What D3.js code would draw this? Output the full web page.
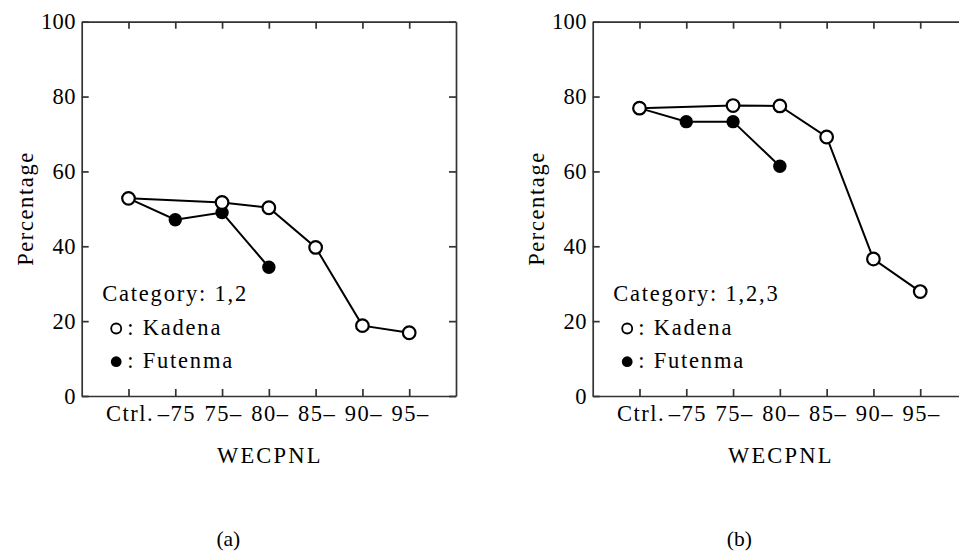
<!doctype html>
<html>
<head>
<meta charset="utf-8">
<script src="https://d3js.org/d3.v7.min.js"></script>
<style>
  body { margin: 0; background: #fff; }
  svg text { font-family: "Liberation Serif", "Times New Roman", serif; fill: #000; }
</style>
</head>
<body>
<svg width="959" height="552"></svg>
<script>
// categories on the x axis
var categories = ["Ctrl.", "\u201375", "75\u2013", "80\u2013", "85\u2013", "90\u2013", "95\u2013"];
var yTicks = [0, 20, 40, 60, 80, 100];

// panel (a): category 1,2
var kadenaA  = [52.8, null, 51.7, 50.3, 39.7, 18.8, 16.9];
var futenmaA = [52.8, 47.1, 49.0, 34.4, null, null, null];
// panel (b): category 1,2,3
var kadenaB  = [76.9, null, 77.6, 77.5, 69.2, 36.6, 27.9];
var futenmaB = [76.9, 73.3, 73.3, 61.4, null, null, null];

var panels = [
  { left: 81.7,  label: "(a)", legend: "Category: 1,2",   kadena: kadenaA, futenma: futenmaA },
  { left: 592.7, label: "(b)", legend: "Category: 1,2,3", kadena: kadenaB, futenma: futenmaB }
];

var svg = d3.select("svg"),
    plotW = 374.3,
    plotTop = 21.7,
    plotBottom = 396,
    fs = "22.5px";

panels.forEach(function(p) {
  var x = d3.scaleLinear().domain([-1, categories.length]).range([p.left, p.left + plotW]);
  var y = d3.scaleLinear().domain([0, 100]).range([plotBottom, plotTop]);
  var idx = d3.range(categories.length);

  var g = svg.append("g");

  // frame with inward ticks
  var xb = g.append("g").attr("transform", "translate(0," + plotBottom + ")")
    .call(d3.axisBottom(x).tickValues(idx).tickSizeInner(-7).tickSizeOuter(0).tickPadding(9)
      .tickFormat(function(i) { return categories[i]; }));
  g.append("g").attr("transform", "translate(0," + plotTop + ")")
    .call(d3.axisTop(x).tickValues(idx).tickSizeInner(-7).tickSizeOuter(0).tickFormat(""));
  var yl = g.append("g").attr("transform", "translate(" + p.left + ",0)")
    .call(d3.axisLeft(y).tickValues(yTicks).tickSizeInner(-7).tickSizeOuter(0).tickPadding(6));
  g.append("g").attr("transform", "translate(" + (p.left + plotW) + ",0)")
    .call(d3.axisRight(y).tickValues(yTicks).tickSizeInner(-7).tickSizeOuter(0).tickFormat(""));

  g.selectAll(".domain").attr("stroke", "#333").attr("stroke-width", 1.7);
  g.selectAll(".tick line").attr("stroke", "#333").attr("stroke-width", 1.7);
  g.selectAll(".tick text")
    .attr("font-size", fs)
    .attr("font-family", "Liberation Serif, serif")
    .attr("fill", "#000");
  xb.selectAll(".tick text").attr("letter-spacing", "1.5px").attr("dx", "1px");
  yl.selectAll(".tick text").attr("letter-spacing", "0.3px");

  // axis titles
  g.append("text")
    .attr("transform", "translate(" + (p.left - 49) + "," + 208.5 + ") rotate(-90)")
    .attr("text-anchor", "middle")
    .attr("font-size", fs)
    .attr("letter-spacing", "1.6px")
    .text("Percentage");
  g.append("text")
    .attr("x", p.left + plotW / 2 + 1)
    .attr("y", 462.5)
    .attr("text-anchor", "middle")
    .attr("font-size", fs)
    .attr("letter-spacing", "2.2px")
    .text("WECPNL");

  // lines
  function pts(vals) {
    return vals.map(function(v, i) { return { i: i, v: v }; }).filter(function(d) { return d.v != null; });
  }
  var lineP = d3.line().x(function(d) { return x(d.i); }).y(function(d) { return y(d.v); });

  g.append("path").datum(pts(p.futenma)).attr("d", lineP)
    .attr("fill", "none").attr("stroke", "#000").attr("stroke-width", 2);
  g.append("path").datum(pts(p.kadena)).attr("d", lineP)
    .attr("fill", "none").attr("stroke", "#000").attr("stroke-width", 2);

  g.selectAll(".fut").data(pts(p.futenma)).enter().append("circle")
    .attr("cx", function(d) { return x(d.i); })
    .attr("cy", function(d) { return y(d.v); })
    .attr("r", 6.7).attr("fill", "#000");
  g.selectAll(".kad").data(pts(p.kadena)).enter().append("circle")
    .attr("cx", function(d) { return x(d.i); })
    .attr("cy", function(d) { return y(d.v); })
    .attr("r", 6.3).attr("fill", "#fff").attr("stroke", "#000").attr("stroke-width", 2.2);

  // legend
  var lx = p.left + 20.5;
  g.append("text").attr("x", lx).attr("y", 301)
    .attr("font-size", fs).attr("letter-spacing", "1.8px").text(p.legend);
  g.append("circle").attr("cx", lx + 14).attr("cy", 328.5).attr("r", 5)
    .attr("fill", "#fff").attr("stroke", "#000").attr("stroke-width", 1.8);
  g.append("text").attr("x", lx + 25).attr("y", 334.5)
    .attr("font-size", fs).attr("letter-spacing", "1.8px").text(": Kadena");
  g.append("circle").attr("cx", lx + 14).attr("cy", 361.7).attr("r", 5.4).attr("fill", "#000");
  g.append("text").attr("x", lx + 25).attr("y", 368.3)
    .attr("font-size", fs).attr("letter-spacing", "1.8px").text(": Futenma");

  // panel caption
  g.append("text")
    .attr("x", p.left + plotW / 2 - 40.5)
    .attr("y", 546)
    .attr("text-anchor", "middle")
    .attr("font-family", "DejaVu Serif, serif")
    .attr("font-size", "21.5px")
    .text(p.label);
});
</script>
</body>
</html>
